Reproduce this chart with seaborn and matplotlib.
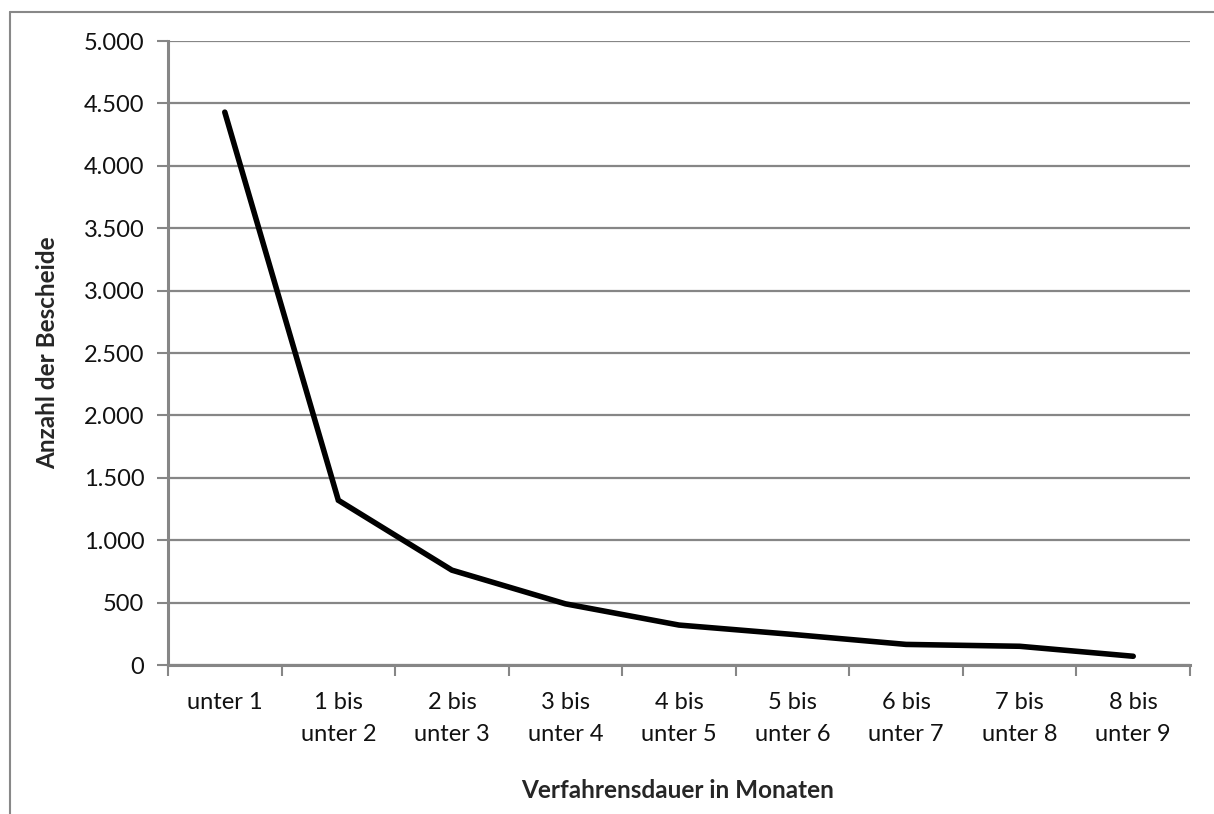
import matplotlib
matplotlib.use("Agg")
import matplotlib.pyplot as plt
import seaborn as sns
import pandas as pd
from matplotlib.ticker import FixedLocator, FuncFormatter
from matplotlib.lines import Line2D

categories = ["unter 1", "1 bis\nunter 2", "2 bis\nunter 3", "3 bis\nunter 4", "4 bis\nunter 5",
              "5 bis\nunter 6", "6 bis\nunter 7", "7 bis\nunter 8", "8 bis\nunter 9"]
values = [4430, 1320, 760, 490, 320, 245, 165, 150, 70]
y_ticks = list(range(0, 5001, 500))

sns.set_theme(style="white")
plt.rcParams['font.family'] = ['Lato', 'DejaVu Sans']

W, H = 1214, 814
fig = plt.figure(figsize=(W / 100, H / 100), dpi=100)
ax = fig.add_axes([168 / W, 1 - 665 / H, (1190 - 168) / W, (665 - 41) / H])

df = pd.DataFrame({"pos": list(range(len(categories))), "val": values})
sns.lineplot(data=df, x="pos", y="val", ax=ax, color="black", linewidth=4.0,
             solid_capstyle="round", solid_joinstyle="miter", zorder=5)

ax.set_xlim(-0.5, len(categories) - 0.5)
ax.set_ylim(0, 5000)
ax.yaxis.set_major_locator(FixedLocator(y_ticks))
ax.yaxis.set_major_formatter(FuncFormatter(lambda v, p: f"{int(v):,}".replace(",", ".")))
ax.grid(axis="y", color="#868686", linewidth=1.6)
ax.set_axisbelow(True)

ax.set_xticks(range(len(categories)))
ax.set_xticklabels(categories, fontsize=17, color="#111111", va="top", linespacing=1.62)
ax.tick_params(axis="x", which="major", length=0, pad=19.5)
ax.set_xticks([i - 0.5 for i in range(len(categories) + 1)], minor=True)
ax.tick_params(axis="x", which="minor", length=8, width=1.5, color="#868686", direction="out", bottom=True)
ax.tick_params(axis="y", which="major", length=8, width=1.5, color="#868686", direction="out",
               left=True, labelsize=17, labelcolor="#111111", pad=9)

for s in ["top", "right"]:
    ax.spines[s].set_visible(False)
for s in ["left", "bottom"]:
    ax.spines[s].set_color("#868686")
    ax.spines[s].set_linewidth(2.2)

ax.set_xlabel("Verfahrensdauer in Monaten", fontsize=17.5, fontweight="bold")
ax.set_ylabel("Anzahl der Bescheide", fontsize=17.5, fontweight="bold")
ax.xaxis.set_label_coords((678 - 168) / (1190 - 168), -(779 - 665) / (665 - 41))
ax.yaxis.set_label_coords(-(168 - 59) / (1190 - 168), 0.5)

# outer chart frame
fig.add_artist(Line2D([10 / W, 1.0], [1 - 12 / H, 1 - 12 / H], transform=fig.transFigure,
                      color="#888888", linewidth=1.5))
fig.add_artist(Line2D([10 / W, 10 / W], [1 - 12 / H, 0.0], transform=fig.transFigure,
                      color="#888888", linewidth=1.5))

fig.savefig("out.png", dpi=100)
